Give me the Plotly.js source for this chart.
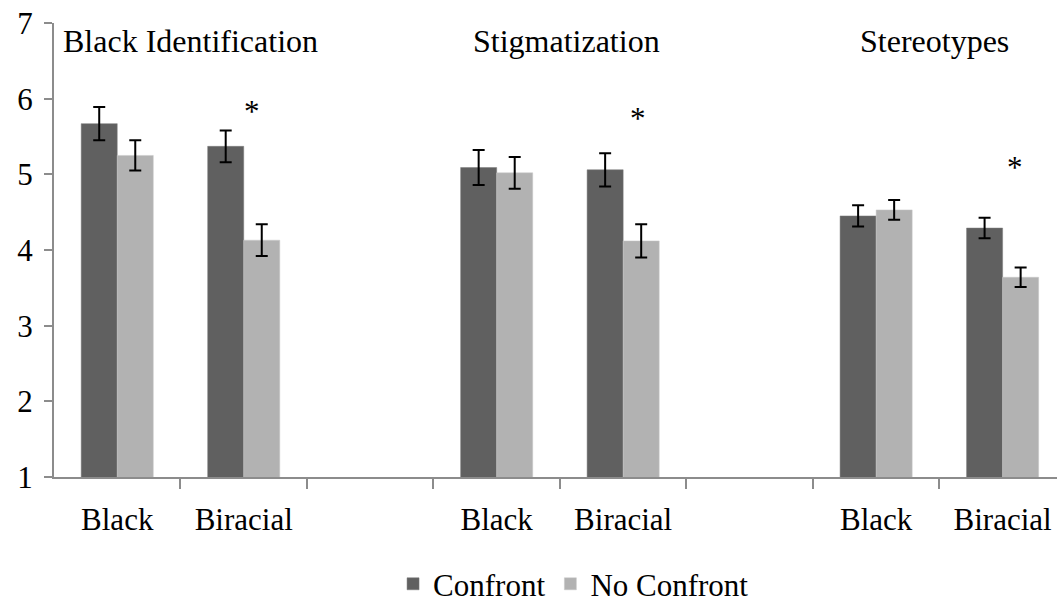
<!DOCTYPE html>
<html>
<head>
<meta charset="utf-8">
<script src="https://cdn.plot.ly/plotly-3.0.1.min.js"></script>
<style>html,body{margin:0;padding:0;background:#fff;}#chart{width:1057px;height:607px;}</style>
</head>
<body>
<div id="chart"></div>
<script>
// Category slots along the x axis (blank slots separate the three measures)
const categories = ["Black", "Biracial", "", "Black", "Biracial", "", "Black", "Biracial"];
const groupTitles = ["Black Identification", "Stigmatization", "Stereotypes"];
const seriesNames = ["Confront", "No Confront"];

// Means (null for blank slots)
const confrontMeans   = [5.67, 5.37, null, 5.09, 5.06, null, 4.45, 4.29];
const noConfrontMeans = [5.25, 4.13, null, 5.02, 4.12, null, 4.53, 3.64];
// Standard errors
const confrontErr     = [0.22, 0.21, null, 0.23, 0.22, null, 0.14, 0.135];
const noConfrontErr   = [0.20, 0.21, null, 0.21, 0.22, null, 0.13, 0.13];

const yTicks = [1, 2, 3, 4, 5, 6, 7];

const xIdx = categories.map((c, i) => i);
const font = "Liberation Serif";

const errStyle = {type: "data", visible: true, color: "#000", thickness: 2, width: 6};

const traces = [
  {type: "bar", name: seriesNames[0], x: xIdx, y: confrontMeans,
   marker: {color: "#606060", line: {color: "#7a7a7a", width: 0.5}},
   error_y: Object.assign({array: confrontErr}, errStyle), hoverinfo: "skip"},
  {type: "bar", name: seriesNames[1], x: xIdx, y: noConfrontMeans,
   marker: {color: "#b2b2b2", line: {color: "#c8c8c8", width: 0.5}},
   error_y: Object.assign({array: noConfrontErr}, errStyle), hoverinfo: "skip"}
];

const annotations = [
  {x: 0.58, y: 6.76, text: groupTitles[0]},
  {x: 3.555, y: 6.76, text: groupTitles[1]},
  {x: 6.46, y: 6.76, text: groupTitles[2]}
].map(a => Object.assign(a, {xref: "x", yref: "y", showarrow: false,
  xanchor: "center", yanchor: "middle", font: {family: font, size: 32, color: "#000"}}));

const stars = [
  {x: 1.063, y: 5.83},
  {x: 4.119, y: 5.74},
  {x: 7.097, y: 5.09}
].map(a => Object.assign(a, {text: "*", xref: "x", yref: "y", showarrow: false,
  xanchor: "center", yanchor: "middle", font: {family: font, size: 31, color: "#000"}}));

const layout = {
  width: 1057, height: 607,
  margin: {l: 54, r: 0, t: 22.5, b: 129.5, pad: 0, autoexpand: false},
  paper_bgcolor: "#fff", plot_bgcolor: "#fff",
  barmode: "group", bargap: 0.43, bargroupgap: 0,
  font: {family: font, size: 31, color: "#000"},
  showlegend: true,
  legend: {orientation: "h", x: 0.518, xanchor: "center", y: -0.236, yanchor: "middle",
           font: {family: font, size: 31, color: "#000"}, itemwidth: 30, tracegroupgap: 0},
  xaxis: {
    range: [-0.5, 7.43], tickmode: "array", tickvals: xIdx, ticktext: categories,
    ticks: "", showgrid: false, zeroline: false, showline: true, automargin: false,
    linecolor: "#8c8c8c", linewidth: 2, ticklabelstandoff: 14,
    tickfont: {family: font, size: 31, color: "#000"},
    minor: {tickmode: "array", tickvals: [0.5, 1.5, 2.5, 3.5, 4.5, 5.5, 6.5],
            ticks: "outside", ticklen: 10, tickcolor: "#8c8c8c", tickwidth: 2, showgrid: false},
    fixedrange: true
  },
  yaxis: {
    range: [1, 7], tickmode: "array", tickvals: yTicks, ticktext: yTicks.map(String),
    ticks: "outside", ticklen: 8, tickcolor: "#8c8c8c", tickwidth: 2, automargin: false,
    showgrid: false, zeroline: false, showline: true, linecolor: "#8c8c8c", linewidth: 2,
    ticklabelstandoff: 5,
    tickfont: {family: font, size: 31, color: "#000"}, fixedrange: true
  },
  annotations: annotations.concat(stars)
};

Plotly.newPlot("chart", traces, layout, {displayModeBar: false, staticPlot: true});
</script>
</body>
</html>
